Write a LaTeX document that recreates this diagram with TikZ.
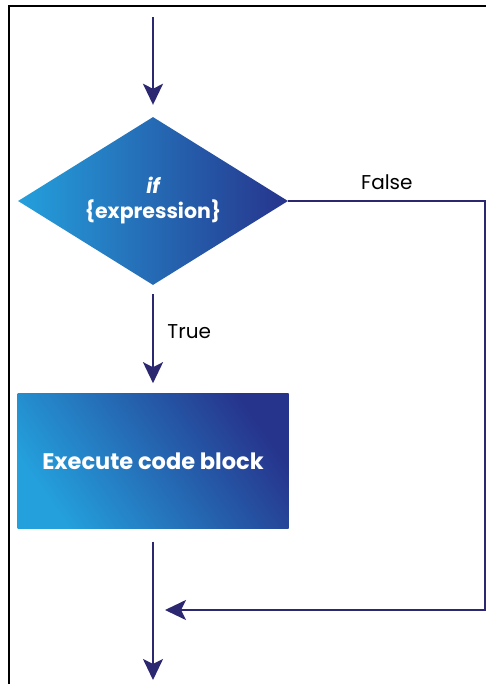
\documentclass[tikz,border=0pt]{standalone}
\usepackage{fontspec}
\setmainfont{Poppins}
\usepackage{tikz}
\usetikzlibrary{arrows.meta,positioning,shapes.geometric}
\usepackage{xcolor}

\definecolor{navy}{RGB}{43,39,112}
\definecolor{lightblue}{RGB}{36,160,220}
\definecolor{midblue}{RGB}{30,108,186}
\definecolor{darkblue}{RGB}{38,52,140}

\begin{document}
\begin{tikzpicture}[
  x=1pt, y=-1pt,
  decision/.style={diamond, aspect=1.6, minimum width=270pt, minimum height=168pt, inner sep=0pt,
    left color=lightblue, middle color=midblue, right color=darkblue, text=white, align=center,
    font=\bfseries\fontsize{20.5}{25}\selectfont},
  process/.style={rectangle, minimum width=271pt, minimum height=135pt, inner sep=0pt,
    bottom color=lightblue, middle color=midblue, top color=darkblue, shading angle=-55, text=white,
    font=\bfseries\fontsize{22.5}{26}\selectfont},
  lbl/.style={font=\fontsize{20}{24}\selectfont, text=black},
  arr/.style={-{Stealth[length=21pt, width=20pt, inset=5pt]}, navy, line width=2.3pt},
  frame/.style={draw=black, line width=1.6pt}
]
\useasboundingbox (0,0) rectangle (486,684);

% Frame
\draw[frame] (9,700) |- (500,6);

% Shapes
\node[decision] (cond) at (153,201) {\itshape if\\\{expression\}};
\node[process, below=108pt of cond] (block) {Execute code block};

% Loose ends
\coordinate (start) at (153,17);
\coordinate (corner) at (485.5,610);
\coordinate (join) at (165,610);
\coordinate (finish) at (153,680);

% Arrows
\draw[arr, shorten >=12pt] (start) -- (cond.north);
\draw[arr, shorten <=9pt, shorten >=10pt] (cond.south) -- node[lbl, pos=0.43, right=10pt] (lbltrue) {True} (block.north);
\draw[arr] (cond.east) -| node[lbl, pos=0.25, above=7pt] (lblfalse) {False} (corner) -- (join);
\draw[arr, shorten <=13pt] (block.south) -- (finish);
\end{tikzpicture}
\end{document}
